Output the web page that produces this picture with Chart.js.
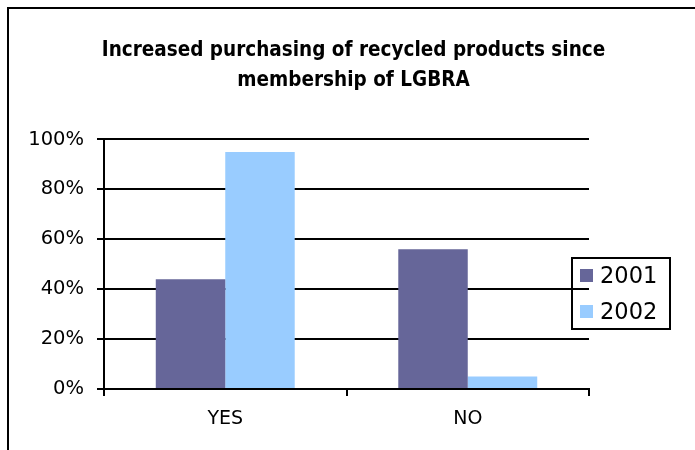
<!DOCTYPE html>
<html lang="en">

<head>
  <meta charset="UTF-8">
  <title>Increased purchasing of recycled products</title>
  <script src="https://cdn.jsdelivr.net/npm/chart.js"></script>
  <style>
    html, body { margin: 0; padding: 0; background: #fff; }
    .wrap { position: relative; width: 695px; height: 450px; }
    .frame { position: absolute; left: 7px; top: 7px; right: 0; bottom: 0; border-top: 2px solid #000; border-left: 2px solid #000; pointer-events: none; }
  </style>
</head>

<body>
  <div class="wrap">
    <canvas id="chart" width="695" height="450"></canvas>
    <div class="frame"></div>
  </div>

  <script>
    const categories = ['YES', 'NO']
    const seriesNames = ['2001', '2002']
    const values2001 = [44, 56]
    const values2002 = [95, 5]
    const yTicks = [0, 20, 40, 60, 80, 100]

    const FONT = "'DejaVu Sans', Verdana, sans-serif"

    // boxed legend drawn on the canvas, like the old Excel one
    const boxLegend = {
      id: 'boxLegend',
      afterDraw (chart) {
        const ctx = chart.ctx
        ctx.save()
        ctx.lineWidth = 2
        ctx.strokeStyle = '#000'
        ctx.strokeRect(572, 258, 98, 71)
        chart.data.datasets.forEach((ds, i) => {
          const cy = 276 + i * 36
          ctx.fillStyle = ds.backgroundColor
          ctx.fillRect(580, cy - 7, 13, 13)
          ctx.fillStyle = '#000'
          ctx.font = '22.5px ' + FONT
          ctx.textBaseline = 'middle'
          ctx.fillText(ds.label, 600, cy + 1)
        })
        ctx.restore()
      }
    }

    new Chart(document.getElementById('chart'), {
      type: 'bar',
      data: {
        labels: categories,
        datasets: [
          { label: seriesNames[0], data: values2001, backgroundColor: '#666699' },
          { label: seriesNames[1], data: values2002, backgroundColor: '#99CCFF' }
        ]
      },
      options: {
        responsive: false,
        animation: false,
        layout: { padding: { left: 12, right: 0, top: 0, bottom: 21 } },
        datasets: { bar: { categoryPercentage: 0.573, barPercentage: 1 } },
        plugins: {
          legend: { display: false },
          tooltip: { enabled: false },
          title: {
            display: true,
            text: ['Increased purchasing of recycled products since', 'membership of LGBRA'],
            color: '#000',
            font: { family: "'DejaVu Sans Condensed', 'DejaVu Sans', sans-serif", size: 20.5, weight: 'bold', lineHeight: 1.45 },
            padding: { top: 36, bottom: 44 }
          }
        },
        scales: {
          x: {
            afterFit: s => { s.height = 40 },
            grid: { offset: true, drawOnChartArea: false, drawTicks: true, tickLength: 7, color: '#000', lineWidth: 2 },
            border: { display: true, color: '#000', width: 2 },
            ticks: { color: '#000', font: { family: FONT, size: 19 }, padding: 12 }
          },
          y: {
            min: 0,
            max: 100,
            afterFit: s => { s.width = 92 },
            afterBuildTicks: s => { s.ticks = yTicks.map(v => ({ value: v })) },
            grid: { color: '#000', lineWidth: 2, drawTicks: true, tickLength: 7 },
            border: { display: true, color: '#000', width: 2 },
            ticks: { color: '#000', font: { family: FONT, size: 19.5 }, padding: 13, callback: v => v + '%' }
          },
          // empty right-hand strip that leaves room for the legend
          spacer: {
            type: 'linear',
            position: 'right',
            afterFit: s => { s.width = 106 },
            grid: { display: false },
            border: { display: false },
            ticks: { display: false }
          }
        }
      },
      plugins: [boxLegend]
    })
  </script>
</body>

</html>
